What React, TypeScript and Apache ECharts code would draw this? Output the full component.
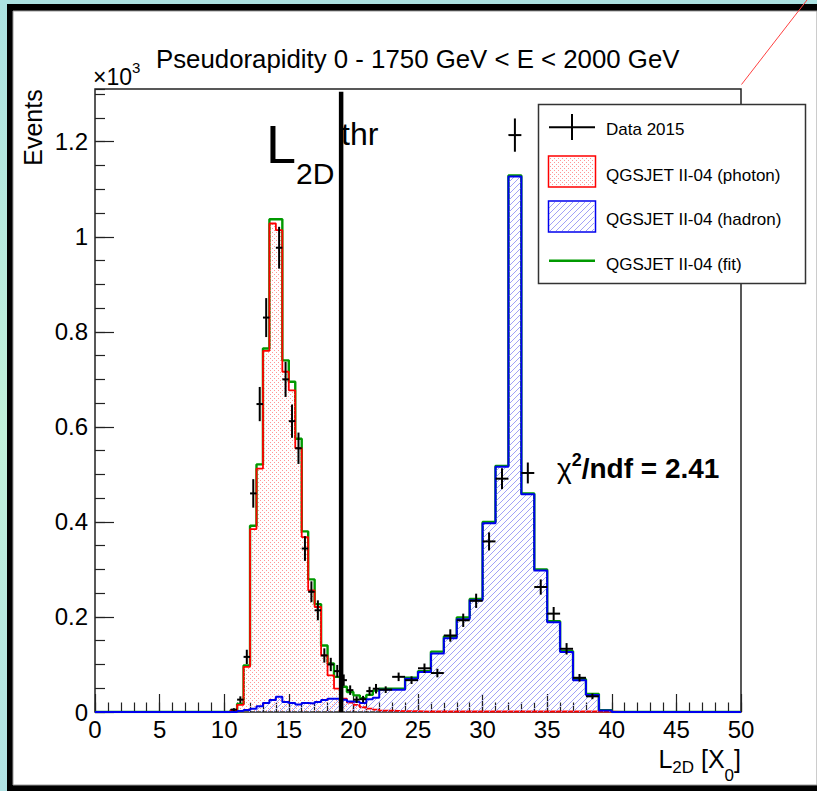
import React, { useEffect, useRef } from 'react';
import * as echarts from 'echarts';

const FONT = "'Liberation Sans', Arial, Helvetica, sans-serif";

// ---- Data (values in units of 10^3 events) ----
const binLowEdges = [
  10, 10.5, 11, 11.5, 12, 12.5, 13, 13.5, 14, 14.5, 15, 15.5, 16, 16.5, 17, 17.5,
  18, 18.5, 19, 19.5, 20, 20.5, 21, 21.5,
  22, 23, 24, 25, 26, 27, 28, 29, 30, 31, 32, 33, 34, 35, 36, 37, 38, 39,
  40, 41, 42, 43, 44, 45, 46, 47, 48, 49,
];
const binUpperEdge = 50;

const photonMC = [
  0, 0.004, 0.015, 0.095, 0.385, 0.512, 0.76, 1.028, 1.014, 0.716, 0.677, 0.555,
  0.368, 0.256, 0.221, 0.119, 0.077, 0.049, 0.028, 0.02, 0.015, 0.01, 0.007, 0.005,
  0.003, 0.002, 0.002, 0.001, 0.001, 0.001, 0.001, 0.001, 0.001, 0.001, 0.001, 0.001,
  0.001, 0.001, 0.001, 0.001, 0.001, 0.001,
  0, 0, 0, 0, 0, 0, 0, 0, 0, 0,
];
const hadronMC = [
  0, 0, 0.002, 0.004, 0.007, 0.012, 0.019, 0.025, 0.032, 0.021, 0.019, 0.016,
  0.019, 0.018, 0.021, 0.025, 0.028, 0.028, 0.026, 0.022, 0.021, 0.019, 0.027, 0.03,
  0.047, 0.047, 0.07, 0.084, 0.123, 0.155, 0.195, 0.235, 0.397, 0.516, 1.127, 0.458,
  0.298, 0.189, 0.126, 0.067, 0.036, 0.003,
  0, 0, 0, 0, 0, 0, 0, 0, 0, 0,
];
const fitMC = [
  0, 0.004, 0.017, 0.098, 0.392, 0.521, 0.765, 1.037, 1.037, 0.74, 0.695, 0.575,
  0.38, 0.279, 0.227, 0.14, 0.102, 0.074, 0.053, 0.042, 0.035, 0.029, 0.036, 0.045,
  0.049, 0.049, 0.072, 0.086, 0.127, 0.159, 0.199, 0.238, 0.4, 0.518, 1.129, 0.46,
  0.3, 0.191, 0.128, 0.069, 0.038, 0.004,
  0, 0, 0, 0, 0, 0, 0, 0, 0, 0,
];

const dataX = [
  10.75, 11.25, 11.75, 12.25, 12.75, 13.25, 14.25, 14.75, 15.25, 15.75, 16.25,
  16.75, 17.25, 17.75, 18.25, 18.75, 19.25, 19.75, 20.25, 20.75, 21.25, 21.75,
  22.5, 23.5, 24.5, 25.5, 26.5, 27.5, 28.5, 29.5, 30.5, 31.5, 32.5, 33.5, 34.5,
  35.5, 36.5, 37.5, 38.5,
];
const dataY = [
  0.005, 0.026, 0.116, 0.46, 0.648, 0.83, 0.977, 0.7, 0.612, 0.555, 0.344,
  0.253, 0.214, 0.119, 0.1, 0.086, 0.067, 0.046, 0.026, 0.027, 0.044, 0.049,
  0.047, 0.074, 0.067, 0.092, 0.082, 0.161, 0.193, 0.234, 0.359, 0.491, 1.214,
  0.503, 0.263, 0.207, 0.133, 0.072, 0.033,
];
const dataErrY = [
  0.003, 0.007, 0.015, 0.03, 0.036, 0.041, 0.044, 0.037, 0.035, 0.033, 0.026,
  0.022, 0.021, 0.015, 0.014, 0.013, 0.012, 0.01, 0.007, 0.007, 0.009, 0.01,
  0.007, 0.009, 0.008, 0.01, 0.009, 0.013, 0.014, 0.015, 0.019, 0.022, 0.035,
  0.022, 0.016, 0.014, 0.012, 0.008, 0.006,
];
const dataErrX = [
  0.25, 0.25, 0.25, 0.25, 0.25, 0.25, 0.25, 0.25, 0.25, 0.25, 0.25,
  0.25, 0.25, 0.25, 0.25, 0.25, 0.25, 0.25, 0.25, 0.25, 0.25, 0.25,
  0.5, 0.5, 0.5, 0.5, 0.5, 0.5, 0.5, 0.5, 0.5, 0.5, 0.5,
  0.5, 0.5, 0.5, 0.5, 0.5, 0.5,
];

const xMin = 0;
const xMax = 50;
const xMajor = 5;
const xMinor = 1;
const yMin = 0;
const yMax = 1.311;
const yMajor = 0.2;
const yMinor = 0.05;
const threshold = 19.05;
const thresholdTop = 1.305;

const titleText = 'Pseudorapidity 0 - 1750 GeV < E < 2000 GeV';
const legendLabels = ['Data 2015', 'QGSJET II-04 (photon)', 'QGSJET II-04 (hadron)', 'QGSJET II-04 (fit)'];
const chi2Value = '2.41';

// ---- helpers ----
const RED = '#ff0000';
const BLUE = '#0000ee';
const GREEN = '#009900';
const DOT_COLOR = '#ff9696';
const HATCH_COLOR = '#a2a2f6';

// crisp 1px dots on a staggered grid (ROOT-like dotted fill)
function dotsInRect(L: number, T: number, R: number, B: number, out: any[], z = 0) {
  for (let y = Math.ceil((T - 0.5) / 2) * 2; y < B - 0.5; y += 2) {
    const off = y % 4 === 0 ? 0 : 2;
    for (let x = Math.ceil((L - 0.5 - off) / 4) * 4 + off; x < R - 0.5; x += 4) {
      out.push({ type: 'rect', z, shape: { x, y, width: 1, height: 1 }, style: { fill: DOT_COLOR } });
    }
  }
}

// crisp 1px diagonal hatch (x + y = 6k)
function hatchInRect(L: number, T: number, R: number, B: number, out: any[], z = 0) {
  const s = 6;
  for (let y = Math.ceil(T - 0.5); y < B - 0.5; y++) {
    const xs = Math.ceil(L - 0.5);
    let x = xs + ((((s - ((xs + y) % s)) % s) + s) % s);
    for (; x < R - 0.5; x += s) {
      out.push({ type: 'rect', z, shape: { x, y, width: 1, height: 1 }, style: { fill: HATCH_COLOR } });
    }
  }
}

function histPoints(vals: number[]) {
  const pts: number[][] = [[xMin, 0]];
  binLowEdges.forEach((e, i) => pts.push([e, vals[i]]));
  pts.push([binUpperEdge, 0]);
  return pts;
}

function binRects(vals: number[]) {
  return binLowEdges.map((e, i) => [e, i + 1 < binLowEdges.length ? binLowEdges[i + 1] : binUpperEdge, vals[i]]);
}

function fillSeries(name: string, vals: number[], kind: 'dots' | 'hatch', z: number) {
  return {
    name, type: 'custom', z, silent: true,
    data: binRects(vals),
    encode: { x: [0, 1], y: 2 },
    renderItem: (params: any, api: any) => {
      const v = api.value(2);
      if (!(v > 0)) return null;
      const p0 = api.coord([api.value(0), 0]);
      const p1 = api.coord([api.value(1), v]);
      const children: any[] = [];
      if (kind === 'dots') dotsInRect(p0[0], p1[1], p1[0], p0[1], children);
      else hatchInRect(p0[0], p1[1], p1[0], p0[1], children);
      return { type: 'group', children };
    },
  };
}

let measureCtx: CanvasRenderingContext2D | null = null;
function measure(text: string, size: number, weight: string) {
  if (!measureCtx) measureCtx = document.createElement('canvas').getContext('2d');
  measureCtx!.font = `${weight} ${size}px ${FONT}`;
  return measureCtx!.measureText(text).width;
}

type Piece = { text: string; size: number; base: number; weight?: string; x?: number };

function textEl(text: string, x: number, base: number, size: number, weight = 'normal') {
  return {
    type: 'text',
    x,
    y: base - 0.3465 * size,
    z: 50,
    silent: true,
    style: {
      text,
      fill: '#000',
      fontSize: size,
      fontFamily: FONT,
      fontWeight: weight,
      align: 'left',
      verticalAlign: 'middle',
    },
  };
}

function pieceRow(pieces: Piece[], startX: number, alignRight = false) {
  const widths = pieces.map((p) => measure(p.text, p.size, p.weight || 'normal'));
  const total = widths.reduce((a, b) => a + b, 0);
  let cx = alignRight ? startX - total : startX;
  const els: any[] = [];
  pieces.forEach((p, i) => {
    const px = p.x != null ? p.x : cx;
    els.push(textEl(p.text, px, p.base, p.size, p.weight || 'normal'));
    cx = px + widths[i];
  });
  return els;
}

function legendBox(x: number, y: number, w: number, h: number, kind: 'dots' | 'hatch', stroke: string) {
  const els: any[] = [];
  if (kind === 'dots') dotsInRect(x + 1, y + 1, x + w - 1, y + h - 1, els, 45);
  else hatchInRect(x + 1, y + 1, x + w - 1, y + h - 1, els, 45);
  els.forEach((e) => (e.silent = true));
  els.push({ type: 'rect', z: 46, silent: true, shape: { x, y, width: w, height: h }, style: { fill: 'none', stroke, lineWidth: 1.5 } });
  return els;
}

function buildGraphics() {
  const g: any[] = [];
  // page background and frame
  g.push({
    type: 'rect', z: -10, silent: true,
    shape: { x: 0, y: 0, width: 817, height: 791 },
    style: {
      fill: {
        type: 'linear', x: 0, y: 0, x2: 0, y2: 1,
        colorStops: [
          { offset: 0, color: '#ace2e2' },
          { offset: 0.55, color: '#c2f1da' },
          { offset: 1, color: '#b0e2e4' },
        ],
      },
    },
  });
  g.push({ type: 'rect', z: -9, silent: true, shape: { x: 7, y: 4, width: 810, height: 787 }, style: { fill: '#000' } });
  g.push({ type: 'rect', z: -8, silent: true, shape: { x: 13, y: 11, width: 804, height: 774 }, style: { fill: '#fff', stroke: '#999', lineWidth: 1 } });

  // title
  g.push(...pieceRow([{ text: titleText, size: 25.8, base: 68.3 }], 156));
  // x10^3
  g.push(...pieceRow([
    { text: '×10', size: 23, base: 85 },
    { text: '3', size: 15, base: 72.5 },
  ], 93));
  // Y axis title
  g.push({
    type: 'text', x: 33, y: 127.5, rotation: Math.PI / 2, z: 50, silent: true,
    style: { text: 'Events', fill: '#000', fontSize: 25, fontFamily: FONT, align: 'center', verticalAlign: 'middle' },
  });
  // X axis title
  g.push(...pieceRow([
    { text: 'L', size: 25, base: 768 },
    { text: '2D', size: 17, base: 773.5 },
    { text: ' [X', size: 25, base: 768 },
    { text: '0', size: 17, base: 781 },
    { text: ']', size: 25, base: 768 },
  ], 741, true));
  // L2D thr label
  g.push(...pieceRow([
    { text: 'L', size: 54, base: 163 },
    { text: '2D', size: 30, base: 183.5 },
  ], 266));
  g.push(...pieceRow([{ text: 'thr', size: 32, base: 145 }], 341));
  // chi2/ndf
  g.push(...pieceRow([
    { text: 'χ', size: 28, base: 478 },
    { text: '2', size: 18, base: 466, weight: 'bold' },
    { text: '/ndf = ' + chi2Value, size: 28, base: 478, weight: 'bold' },
  ], 557));

  // legend
  g.push({ type: 'rect', z: 40, silent: true, shape: { x: 538.5, y: 104.5, width: 267, height: 179 }, style: { fill: '#fff', stroke: '#333', lineWidth: 1.5 } });
  g.push({ type: 'line', z: 45, silent: true, shape: { x1: 549, y1: 127.3, x2: 595, y2: 127.3 }, style: { stroke: '#000', lineWidth: 2 } });
  g.push({ type: 'line', z: 45, silent: true, shape: { x1: 572, y1: 114, x2: 572, y2: 140 }, style: { stroke: '#000', lineWidth: 2 } });
  g.push(...legendBox(548.5, 156, 47, 31, 'dots', RED));
  g.push(...legendBox(548.5, 201, 47, 31, 'hatch', BLUE));
  g.push({ type: 'line', z: 45, silent: true, shape: { x1: 549, y1: 260.7, x2: 595, y2: 260.7 }, style: { stroke: GREEN, lineWidth: 2.5 } });
  const legendBase = [135.7, 181, 225.7, 270.7];
  legendLabels.forEach((t, i) => g.push(...pieceRow([{ text: t, size: 17, base: legendBase[i] }], 606)));

  // stray red line (top right)
  g.push({ type: 'line', z: 100, silent: true, shape: { x1: 741.5, y1: 84.5, x2: 807, y2: 0 }, style: { stroke: '#ff4040', lineWidth: 1 } });
  return g;
}

function buildOption() {
  const tickColor = '#222';
  const baseAxis = {
    type: 'value',
    splitLine: { show: false },
    axisLine: { show: false },
  };
  return {
    animation: false,
    backgroundColor: 'transparent',
    textStyle: { fontFamily: FONT },
    grid: {
      left: 95, right: 76, top: 89, bottom: 79,
      show: true, borderColor: '#222', borderWidth: 1.5, backgroundColor: 'transparent',
      containLabel: false,
    },
    xAxis: [
      {
        ...baseAxis, min: xMin, max: xMax, interval: xMajor, position: 'bottom',
        axisTick: { show: true, inside: true, length: 18, lineStyle: { color: tickColor, width: 1.2 } },
        axisLabel: { show: true, fontSize: 24, color: '#000', fontFamily: FONT, margin: 5 },
      },
      {
        ...baseAxis, min: xMin, max: xMax, interval: xMinor, position: 'bottom',
        axisTick: { show: true, inside: true, length: 9.5, lineStyle: { color: tickColor, width: 1.2 } },
        axisLabel: { show: false },
      },
    ],
    yAxis: [
      {
        ...baseAxis, min: yMin, max: yMax, interval: yMajor, position: 'left',
        axisTick: { show: true, inside: true, length: 19, lineStyle: { color: tickColor, width: 1.2 } },
        axisLabel: { show: true, fontSize: 24, color: '#000', fontFamily: FONT, margin: 7, showMaxLabel: false },
      },
      {
        ...baseAxis, min: yMin, max: yMax, interval: yMinor, position: 'left',
        axisTick: { show: true, inside: true, length: 10, lineStyle: { color: tickColor, width: 1.2 } },
        axisLabel: { show: false },
      },
    ],
    series: [
      {
        name: 'fit', type: 'line', step: 'end', z: 2, symbol: 'none', showSymbol: false, silent: true,
        data: histPoints(fitMC),
        lineStyle: { color: GREEN, width: 2.4 },
      },
      fillSeries('photonFill', photonMC, 'dots', 3),
      {
        name: 'photon', type: 'line', step: 'end', z: 3, symbol: 'none', showSymbol: false, silent: true,
        data: histPoints(photonMC),
        lineStyle: { color: RED, width: 1.8 },
      },
      fillSeries('hadronFill', hadronMC, 'hatch', 4),
      {
        name: 'hadron', type: 'line', step: 'end', z: 4, symbol: 'none', showSymbol: false, silent: true,
        data: histPoints(hadronMC),
        lineStyle: { color: BLUE, width: 2 },
      },
      {
        name: 'data', type: 'custom', z: 5, silent: true,
        data: dataX.map((x, i) => [x, dataY[i], dataErrY[i], dataErrX[i]]),
        encode: { x: 0, y: 1 },
        renderItem: (params: any, api: any) => {
          const x = api.value(0);
          const y = api.value(1);
          const ey = api.value(2);
          const ex = api.value(3);
          const c = api.coord([x, y]);
          const l = api.coord([x - ex, y]);
          const r = api.coord([x + ex, y]);
          const t = api.coord([x, y + ey]);
          const b = api.coord([x, y - ey]);
          const style = { stroke: '#000', lineWidth: 2 };
          return {
            type: 'group',
            children: [
              { type: 'line', shape: { x1: l[0], y1: c[1], x2: r[0], y2: c[1] }, style },
              { type: 'line', shape: { x1: c[0], y1: t[1], x2: c[0], y2: b[1] }, style },
            ],
          };
        },
      },
      {
        name: 'threshold', type: 'line', z: 6, symbol: 'none', showSymbol: false, silent: true,
        data: [[threshold, 0], [threshold, thresholdTop]],
        lineStyle: { color: '#000', width: 4.5 },
      },
    ],
    graphic: { elements: buildGraphics() },
  };
}

export default function App() {
  const ref = useRef<HTMLDivElement>(null);
  useEffect(() => {
    document.body.style.margin = '0';
    const chart = echarts.init(ref.current as HTMLDivElement, null, { renderer: 'svg' });
    chart.setOption(buildOption() as any);
    return () => chart.dispose();
  }, []);
  return <div ref={ref} style={{ width: 817, height: 791 }} />;
}
